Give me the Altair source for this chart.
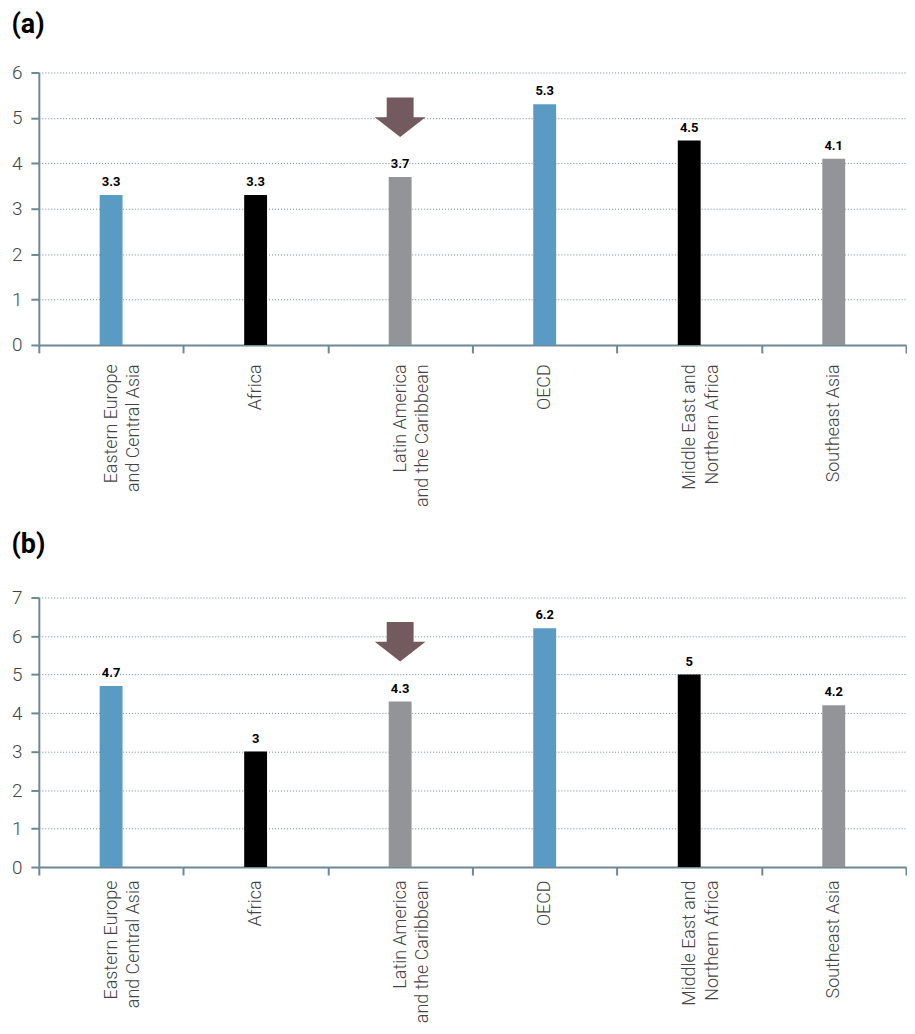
import altair as alt
import pandas as pd

# ---- data ----
regions = [
    "Eastern Europe|and Central Asia",
    "Africa",
    "Latin America|and the Caribbean",
    "OECD",
    "Middle East and|Northern Africa",
    "Southeast Asia",
]
values_a = [3.3, 3.3, 3.7, 5.3, 4.5, 4.1]
values_b = [4.7, 3.0, 4.3, 6.2, 5.0, 4.2]
bar_colors = ["#5a9bc3", "#000000", "#939498", "#5a9bc3", "#000000", "#939498"]
highlight_region = "Latin America|and the Caribbean"

AXIS_COLOR = "#6d8896"
ARROW_COLOR = "#735a5f"
ARROW_PATH = "M-0.53,-0.78 L0.53,-0.78 L0.53,0 L1,0 L0,0.78 L-1,0 L-0.53,0 Z"


def panel(title, values, ymax, height, label_pad, title_offset):
    df = pd.DataFrame({"region": regions, "value": values, "color": bar_colors})
    x = alt.X(
        "region:N",
        sort=regions,
        scale=alt.Scale(paddingInner=0, paddingOuter=0),
        axis=alt.Axis(
            title=None,
            labelAngle=-90,
            labelExpr="split(datum.label, '|')",
            labelFont="Roboto",
            labelFontWeight=300,
            labelFontSize=18,
            labelLineHeight=23,
            labelColor="#444444",
            labelPadding=label_pad,
            tickBand="extent",
            tickSize=8,
            tickWidth=2,
            tickColor=AXIS_COLOR,
            domainColor=AXIS_COLOR,
            domainWidth=2,
            grid=False,
        ),
    )
    y = alt.Y(
        "value:Q",
        scale=alt.Scale(domain=[0, ymax], nice=False),
        axis=alt.Axis(
            title=None,
            values=list(range(ymax + 1)),
            labelFont="Roboto",
            labelFontWeight=300,
            labelFontSize=19,
            labelColor="#444444",
            labelPadding=9,
            labelOverlap=False,
            tickSize=8,
            tickWidth=2,
            tickColor=AXIS_COLOR,
            domainColor=AXIS_COLOR,
            domainWidth=2,
            grid=True,
            gridColor=AXIS_COLOR,
            gridDash=[1, 2],
            gridWidth=1,
        ),
    )
    base = alt.Chart(df)
    bars = base.mark_bar(size=23).encode(
        x=x, y=y, color=alt.Color("color:N", scale=None)
    )
    labels = base.mark_text(
        dy=-6, baseline="bottom", font="Roboto", fontWeight="bold",
        fontSize=13, color="#000000"
    ).encode(
        x=x,
        y=y,
        text=alt.Text("value:Q", format="~g"),
    )
    arrow = base.transform_filter(
        alt.datum.region == highlight_region
    ).mark_point(
        shape=ARROW_PATH, size=2601, filled=True, opacity=1,
        color=ARROW_COLOR, strokeWidth=0, yOffset=-60
    ).encode(x=x, y=y)
    return alt.layer(bars, labels, arrow).properties(
        width=872,
        height=height,
        title=alt.Title(
            title, anchor="start", font="Roboto", fontSize=27,
            fontWeight="bold", color="#000000", offset=title_offset
        ),
    )


top = panel("(a)", values_a, 6, 274, 11, 25)
bottom = panel("(b)", values_b, 7, 271, 5, 30)

chart = alt.vconcat(top, bottom, spacing=24).properties(
    padding={"left": 3, "top": 0, "right": 0, "bottom": 0},
    background="#ffffff",
).configure_view(stroke=None)

chart.save("out.html", embed_options={"renderer": "svg", "actions": False})
